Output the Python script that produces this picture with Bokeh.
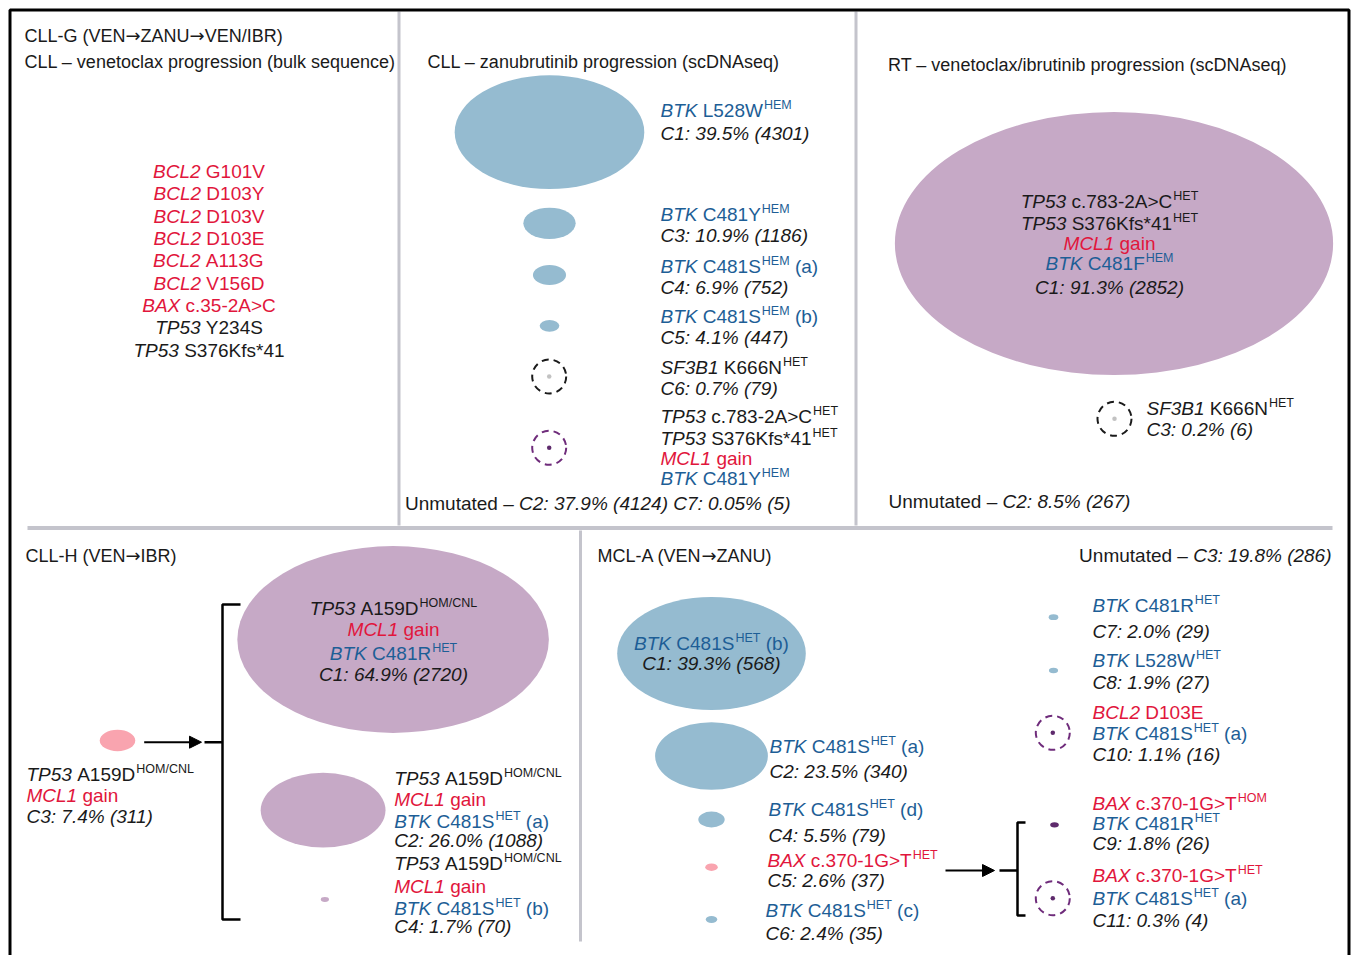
from bokeh.plotting import figure
from bokeh.models import Range1d, ColumnDataSource, Arrow, NormalHead
from bokeh.core.properties import value
from bokeh.embed import file_html
from bokeh.resources import INLINE

# ======================= DATA =======================
# CLL-G: venetoclax progression (bulk sequencing)
bulk_gene = ["BCL2", "BCL2", "BCL2", "BCL2", "BCL2", "BCL2", "BAX", "TP53", "TP53"]
bulk_change = ["G101V", "D103Y", "D103V", "D103E", "A113G", "V156D", "c.35-2A>C", "Y234S", "S376Kfs*41"]

# CLL-G: zanubrutinib progression (scDNAseq)
zanu_clone = ["C1", "C3", "C4", "C5", "C6", "C7"]
zanu_pct = [39.5, 10.9, 6.9, 4.1, 0.7, 0.05]
zanu_cells = [4301, 1186, 752, 447, 79, 5]
zanu_muts = [
    [("BTK", "L528W", "HEM", "")],
    [("BTK", "C481Y", "HEM", "")],
    [("BTK", "C481S", "HEM", "(a)")],
    [("BTK", "C481S", "HEM", "(b)")],
    [("SF3B1", "K666N", "HET", "")],
    [("TP53", "c.783-2A>C", "HET", ""), ("TP53", "S376Kfs*41", "HET", ""),
     ("MCL1", "gain", "", ""), ("BTK", "C481Y", "HEM", "")],
]
zanu_unmut = ("C2", 37.9, 4124)
zanu_footer_clones = ["C7"]

# RT: venetoclax/ibrutinib progression (scDNAseq)
rt_clone = ["C1", "C3"]
rt_pct = [91.3, 0.2]
rt_cells = [2852, 6]
rt_muts = [
    [("TP53", "c.783-2A>C", "HET", ""), ("TP53", "S376Kfs*41", "HET", ""),
     ("MCL1", "gain", "", ""), ("BTK", "C481F", "HEM", "")],
    [("SF3B1", "K666N", "HET", "")],
]
rt_unmut = ("C2", 8.5, 267)

# CLL-H (VEN -> IBR)
h_clone = ["C3", "C1", "C2", "C4"]
h_pct = [7.4, 64.9, 26.0, 1.7]
h_cells = [311, 2720, 1088, 70]
h_muts = [
    [("TP53", "A159D", "HOM/CNL", ""), ("MCL1", "gain", "", "")],
    [("TP53", "A159D", "HOM/CNL", ""), ("MCL1", "gain", "", ""), ("BTK", "C481R", "HET", "")],
    [("TP53", "A159D", "HOM/CNL", ""), ("MCL1", "gain", "", ""), ("BTK", "C481S", "HET", "(a)")],
    [("TP53", "A159D", "HOM/CNL", ""), ("MCL1", "gain", "", ""), ("BTK", "C481S", "HET", "(b)")],
]

# MCL-A (VEN -> ZANU)
m_clone = ["C1", "C2", "C4", "C5", "C6", "C7", "C8", "C10", "C9", "C11"]
m_pct = [39.3, 23.5, 5.5, 2.6, 2.4, 2.0, 1.9, 1.1, 1.8, 0.3]
m_cells = [568, 340, 79, 37, 35, 29, 27, 16, 26, 4]
m_muts = [
    [("BTK", "C481S", "HET", "(b)")],
    [("BTK", "C481S", "HET", "(a)")],
    [("BTK", "C481S", "HET", "(d)")],
    [("BAX", "c.370-1G>T", "HET", "")],
    [("BTK", "C481S", "HET", "(c)")],
    [("BTK", "C481R", "HET", "")],
    [("BTK", "L528W", "HET", "")],
    [("BCL2", "D103E", "", ""), ("BTK", "C481S", "HET", "(a)")],
    [("BAX", "c.370-1G>T", "HOM", ""), ("BTK", "C481R", "HET", "")],
    [("BAX", "c.370-1G>T", "HET", ""), ("BTK", "C481S", "HET", "(a)")],
]
m_unmut = ("C3", 19.8, 286)

# panel titles
titles = ["CLL-G (VEN\u2192ZANU\u2192VEN/IBR)", "CLL \u2013 venetoclax progression (bulk sequence)",
          "CLL \u2013 zanubrutinib progression (scDNAseq)",
          "RT \u2013 venetoclax/ibrutinib progression (scDNAseq)",
          "CLL-H (VEN\u2192IBR)", "MCL-A (VEN\u2192ZANU)"]

# ======================= STYLE =======================
BLACK = "#1a1a1a"
RED = "#e1163c"
BLUE = "#1d5e96"
GENE_COL = {"BTK": BLUE, "BCL2": RED, "BAX": RED, "MCL1": RED, "TP53": BLACK, "SF3B1": BLACK}
F_BLUE, F_PURPLE, F_PINK, F_DARK = "#95bbd0", "#c6a9c6", "#f9a4af", "#5e2a6c"
RING_PURPLE = "#6f2c7b"
GRID_GRAY = "#c4c4cc"
FONT = "Liberation Sans"
ARROW_FONT = "DejaVu Sans"
FS, TFS, SS, SUP_DY = 19, 18, 12.5, -5.5
W_PER_PCT, H_RATIO, RING_R = 4.8, 0.6, 17

zanu_fill = [F_BLUE, F_BLUE, F_BLUE, F_BLUE, "ring_gray", "ring_purple"]
rt_fill = [F_PURPLE, "ring_gray"]
h_fill = [F_PINK, F_PURPLE, F_PURPLE, F_PURPLE]
m_fill = [F_BLUE, F_BLUE, F_BLUE, F_PINK, F_BLUE, F_BLUE, F_BLUE, "ring_purple", F_DARK, "ring_purple"]

# ======================= LAYOUT =======================
title_xy = [(24, 35), (24, 61), (427, 61), (887.5, 64), (25, 555), (597, 555)]
zanu_xy = [(549, 131.7), (549, 222.8), (549, 274.5), (549, 325.3), (548.7, 376), (548.7, 447.3)]
zanu_lab = [(660, [110, 132.5], "left"), (660, [214, 234.5], "left"), (660, [265.5, 286.5], "left"),
            (660, [316, 336.5], "left"), (660, [366.5, 388], "left"), (660, [416, 437.5, 458, 478], "left")]
rt_xy = [(1113.5, 243), (1114, 418.3)]
rt_lab = [(1109, [200.7, 222.7, 243.3, 262.7, 286.7], "center"), (1146, [407.7, 429.3], "left")]
h_xy = [(117, 740), (392.6, 639), (322.6, 809.7), (324.4, 899)]
h_lab = [(26, [774, 795, 816], "left"), (393, [608.3, 629.3, 653.3, 674], "center"),
         (393.7, [778.3, 799.3, 821, 840], "left"), (393.7, [863.3, 885.7, 907.7, 926], "left")]
m_xy = [(711, 653), (711, 755.5), (711, 819), (711, 866.7), (711, 919),
        (1053, 616.7), (1053, 670), (1052.3, 732.3), (1054, 824.3), (1052.3, 897.7)]
m_lab = [(711, [642.7, 663], "center"), (769, [746, 770.7], "left"), (768, [809.3, 835], "left"),
         (767, [860, 880], "left"), (765, [910, 933], "left"), (1092, [605, 631], "left"),
         (1092, [660, 682], "left"), (1092, [711.7, 733.3, 754.3], "left"),
         (1092, [802.7, 822.7, 843.3], "left"), (1092, [875, 897.7, 920], "left")]

# ======================= TEXT HELPERS =======================
AW = {' ': 278, '%': 889, '(': 333, ')': 333, '*': 389, '-': 333, '.': 278, '/': 278, ':': 278,
      '>': 584, '\u2013': 556}
for ch in "0123456789":
    AW[ch] = 556
for ch, w in zip("ABCDEFGHIJKLMNOPQRSTUVWXYZ",
                 [667, 667, 722, 722, 667, 611, 778, 722, 278, 500, 667, 556, 833, 722, 778, 667, 778, 722,
                  667, 611, 722, 667, 944, 667, 667, 611]):
    AW[ch] = w
for ch, w in zip("abcdefghijklmnopqrstuvwxyz",
                 [556, 556, 500, 556, 556, 278, 556, 556, 222, 222, 500, 222, 833, 556, 556, 556, 556, 333,
                  500, 278, 556, 500, 722, 500, 500, 500]):
    AW[ch] = w
ARROW_W = 838

T = {FONT: dict(x=[], y=[], text=[], color=[], style=[], size=[]),
     ARROW_FONT: dict(x=[], y=[], text=[], color=[], style=[], size=[])}


def seg_w(t, size, kind="n"):
    if kind == "a":
        return len(t) * ARROW_W * size / 1000.0
    return sum(AW.get(ch, 556) for ch in t) * size / 1000.0


def fmt(p):
    return f"{p:.2f}" if p < 0.1 else f"{p:.1f}"


def plain_parts(s, color=BLACK):
    parts = []
    chunks = s.split("\u2192")
    for i, c in enumerate(chunks):
        if i > 0:
            parts.append(("\u2192", "a", color))
        if c:
            parts.append((c, "n", color))
    return parts


def emit(parts, x, y, align="left", fs=FS):
    sizes = [SS if k == "s" else fs for _, k, _ in parts]
    total = sum(seg_w(t, s, k) + (1 if k == "s" else 0) for (t, k, _), s in zip(parts, sizes))
    x0 = x - total / 2 if align == "center" else (x - total if align == "right" else x)
    for (t, k, c), s in zip(parts, sizes):
        if k == "s":
            x0 += 1
        lead = len(t) - len(t.lstrip(" "))
        x0 += seg_w(" " * lead, s)
        core = t.strip(" ")
        d = T[ARROW_FONT if k == "a" else FONT]
        d["x"].append(x0)
        d["y"].append(y + (SUP_DY if k == "s" else 0))
        d["text"].append(core)
        d["color"].append(c)
        d["style"].append("italic" if k == "i" else "normal")
        d["size"].append(f"{s}px")
        x0 += seg_w(core, s, k)


def mut_parts(m):
    gene, change, zyg, tag = m
    c = GENE_COL[gene]
    parts = [(gene, "i", c), (" " + change, "n", c)]
    if zyg:
        parts.append((zyg, "s", c))
    if tag:
        parts.append((" " + tag, "n", c))
    return parts


def stat_text(clone, pct, cells):
    return f"{clone}: {fmt(pct)}% ({cells})"


E = dict(x=[], y=[], w=[], h=[], fill=[])
R = dict(x=[], y=[], color=[])
D = dict(x=[], y=[], color=[])


def draw_clones(clones, pcts, cells, muts, fills, xys, labs, footer=()):
    for cl, p, n, ms, f, (cx, cy), (lx, lys, al) in zip(clones, pcts, cells, muts, fills, xys, labs):
        if f.startswith("ring"):
            R["x"].append(cx); R["y"].append(cy)
            R["color"].append(BLACK if f == "ring_gray" else RING_PURPLE)
            D["x"].append(cx); D["y"].append(cy)
            D["color"].append("#c2c2c2" if f == "ring_gray" else F_DARK)
        else:
            w = W_PER_PCT * p
            E["x"].append(cx); E["y"].append(cy); E["w"].append(w); E["h"].append(w * H_RATIO)
            E["fill"].append(f)
        lines = [mut_parts(m) for m in ms]
        if cl not in footer:
            lines.append([(stat_text(cl, p, n), "i", BLACK)])
        for parts, ly in zip(lines, lys):
            emit(parts, lx, ly, al)


# ---- panel titles
for t, (tx, ty) in zip(titles, title_xy):
    emit(plain_parts(t), tx, ty, fs=TFS)

# ---- bulk list
for i, (g, ch) in enumerate(zip(bulk_gene, bulk_change)):
    emit([(g, "i", GENE_COL[g]), (" " + ch, "n", GENE_COL[g])], 208.5, 171 + i * 22.35, "center")

# ---- clones
draw_clones(zanu_clone, zanu_pct, zanu_cells, zanu_muts, zanu_fill, zanu_xy, zanu_lab, zanu_footer_clones)
draw_clones(rt_clone, rt_pct, rt_cells, rt_muts, rt_fill, rt_xy, rt_lab)
draw_clones(h_clone, h_pct, h_cells, h_muts, h_fill, h_xy, h_lab)
draw_clones(m_clone, m_pct, m_cells, m_muts, m_fill, m_xy, m_lab)

# ---- unmutated footers
extra = " ".join(stat_text(c, zanu_pct[zanu_clone.index(c)], zanu_cells[zanu_clone.index(c)])
                 for c in zanu_footer_clones)
emit([("Unmutated \u2013", "n", BLACK), (" " + stat_text(*zanu_unmut) + " " + extra, "i", BLACK)], 404.5, 503)
emit([("Unmutated \u2013", "n", BLACK), (" " + stat_text(*rt_unmut), "i", BLACK)], 888, 501)
emit([("Unmutated \u2013", "n", BLACK), (" " + stat_text(*m_unmut), "i", BLACK)], 1331, 555, "right")

# ======================= FIGURE =======================
p = figure(width=1351, height=955, x_range=Range1d(0, 1351), y_range=Range1d(955, 0),
           output_backend="svg", toolbar_location=None, min_border=0,
           x_axis_location=None, y_axis_location=None)
p.grid.visible = False
p.outline_line_color = None
p.background_fill_color = "white"
p.border_fill_color = "white"

# frame and dividers
p.segment(x0=[398.5, 855.5, 580], y0=[11, 11, 530], x1=[398.5, 855.5, 580], y1=[525, 525, 941],
          line_color=GRID_GRAY, line_width=3)
p.segment(x0=[27], y0=[527.5], x1=[1332], y1=[527.5], line_color=GRID_GRAY, line_width=4)
p.line(x=[9.5, 9.5, 1348.5, 1348.5], y=[955, 9.5, 9.5, 955], line_color="black", line_width=3)

# clone ellipses
p.ellipse(x="x", y="y", width="w", height="h", fill_color="fill", line_color=None,
          source=ColumnDataSource(E))
p.ellipse(x="x", y="y", width=2 * RING_R, height=2 * RING_R, fill_color=None, line_color="color",
          line_width=2, line_dash="7 5", source=ColumnDataSource(R))
p.ellipse(x="x", y="y", width=4.5, height=4.5, fill_color="color", line_color=None,
          source=ColumnDataSource(D))

# arrows and brackets
for (xs, xe, ya) in [(143.7, 201, 741.7), (945, 994, 870)]:
    p.add_layout(Arrow(end=NormalHead(size=12, fill_color="black", line_color="black"),
                       x_start=xs, y_start=ya, x_end=xe, y_end=ya, line_width=2, line_color="black"))
p.segment(x0=[204, 999], y0=[741.7, 870], x1=[222, 1017], y1=[741.7, 870], line_color="black", line_width=2.5)
p.line(x=[240, 222, 222, 240], y=[604, 604, 919, 919], line_color="black", line_width=2.5)
p.line(x=[1025, 1017, 1017, 1025], y=[822, 822, 915, 915], line_color="black", line_width=2.5)

# all texts
for font, d in T.items():
    if d["x"]:
        p.text(x="x", y="y", text="text", text_color="color", text_font_style="style",
               text_font_size="size", text_font=value(font), text_baseline="middle",
               text_align="left", source=ColumnDataSource(d))

open("out.html", "w").write(file_html(p, INLINE))
